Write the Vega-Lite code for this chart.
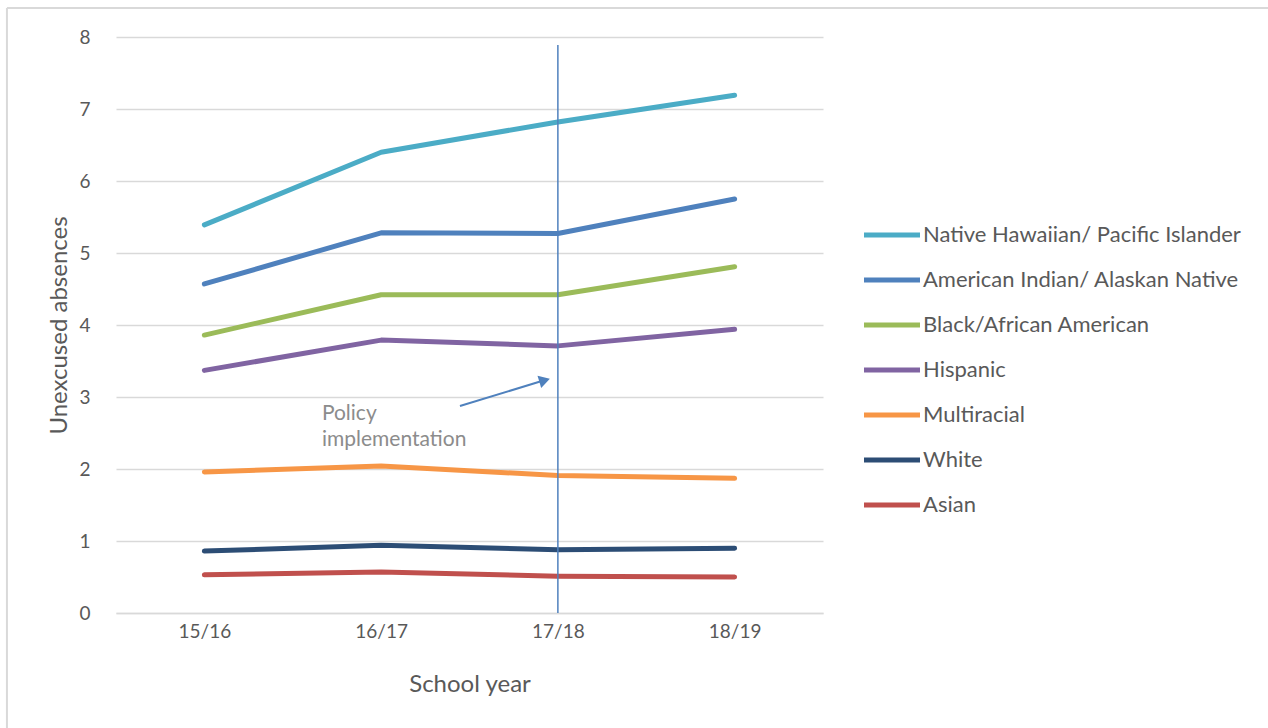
{
  "$schema": "https://vega.github.io/schema/vega-lite/v6.json",
  "autosize": "none",
  "width": 707,
  "height": 576,
  "padding": {"left": 116, "top": 37, "right": 445, "bottom": 115},
  "background": "white",
  "config": {
    "view": {"stroke": null},
    "font": "Lato"
  },
  "datasets": {
    "main": [
      {"group": "Native Hawaiian/ Pacific Islander", "x": 0, "value": 5.39},
      {"group": "Native Hawaiian/ Pacific Islander", "x": 1, "value": 6.40},
      {"group": "Native Hawaiian/ Pacific Islander", "x": 2, "value": 6.82},
      {"group": "Native Hawaiian/ Pacific Islander", "x": 3, "value": 7.19},
      {"group": "American Indian/ Alaskan Native", "x": 0, "value": 4.57},
      {"group": "American Indian/ Alaskan Native", "x": 1, "value": 5.28},
      {"group": "American Indian/ Alaskan Native", "x": 2, "value": 5.27},
      {"group": "American Indian/ Alaskan Native", "x": 3, "value": 5.75},
      {"group": "Black/African American", "x": 0, "value": 3.86},
      {"group": "Black/African American", "x": 1, "value": 4.42},
      {"group": "Black/African American", "x": 2, "value": 4.42},
      {"group": "Black/African American", "x": 3, "value": 4.81},
      {"group": "Hispanic", "x": 0, "value": 3.37},
      {"group": "Hispanic", "x": 1, "value": 3.79},
      {"group": "Hispanic", "x": 2, "value": 3.71},
      {"group": "Hispanic", "x": 3, "value": 3.94},
      {"group": "Multiracial", "x": 0, "value": 1.96},
      {"group": "Multiracial", "x": 1, "value": 2.04},
      {"group": "Multiracial", "x": 2, "value": 1.91},
      {"group": "Multiracial", "x": 3, "value": 1.87},
      {"group": "White", "x": 0, "value": 0.86},
      {"group": "White", "x": 1, "value": 0.94},
      {"group": "White", "x": 2, "value": 0.88},
      {"group": "White", "x": 3, "value": 0.90},
      {"group": "Asian", "x": 0, "value": 0.53},
      {"group": "Asian", "x": 1, "value": 0.57},
      {"group": "Asian", "x": 2, "value": 0.51},
      {"group": "Asian", "x": 3, "value": 0.50}
    ],
    "policy": [{"x": 2, "value": 0, "value2": 7.89}],
    "arrow": [{"x": 1.446, "value": 2.875, "x2": 1.9, "value2": 3.215}],
    "head": [{"x": 1.915, "value": 3.225}],
    "label": [
      {"x": 0.665, "value": 2.765, "text": "Policy"},
      {"x": 0.665, "value": 2.405, "text": "implementation"}
    ],
    "borderLeft": [{"x": -1.117, "value": 8.403, "value2": -1.7}],
    "borderTop": [{"x": -1.117, "x2": 6.1, "value": 8.403}]
  },
  "layer": [
    {
      "data": {"name": "borderLeft"},
      "mark": {"type": "rule", "color": "#d9d9d9", "strokeWidth": 2},
      "encoding": {
        "x": {"field": "x", "type": "quantitative"},
        "y": {"field": "value", "type": "quantitative"},
        "y2": {"field": "value2"}
      }
    },
    {
      "data": {"name": "borderTop"},
      "mark": {"type": "rule", "color": "#d9d9d9", "strokeWidth": 2},
      "encoding": {
        "x": {"field": "x", "type": "quantitative"},
        "x2": {"field": "x2"},
        "y": {"field": "value", "type": "quantitative"}
      }
    },
    {
      "data": {"name": "main"},
      "mark": {"type": "line", "strokeWidth": 5, "strokeCap": "round", "strokeJoin": "round"},
      "encoding": {
        "x": {
          "field": "x",
          "type": "quantitative",
          "scale": {"domain": [-0.5, 3.5], "nice": false, "zero": false},
          "axis": {
            "title": "School year",
            "values": [0, 1, 2, 3],
            "labelExpr": "['15/16','16/17','17/18','18/19'][datum.value]",
            "grid": false,
            "ticks": false,
            "domainColor": "#d9d9d9",
            "domainWidth": 1.5,
            "labelColor": "#595959",
            "labelFontSize": 19,
            "labelPadding": 9,
            "titleColor": "#595959",
            "titleFontSize": 24,
            "titleFontWeight": "normal",
            "titlePadding": 31
          }
        },
        "y": {
          "field": "value",
          "type": "quantitative",
          "scale": {"domain": [0, 8], "nice": false},
          "axis": {
            "title": "Unexcused absences",
            "values": [0, 1, 2, 3, 4, 5, 6, 7, 8],
            "format": "d",
            "grid": true,
            "gridColor": "#d9d9d9",
            "gridWidth": 1.5,
            "domain": false,
            "ticks": false,
            "labelColor": "#595959",
            "labelFontSize": 19,
            "labelPadding": 26,
            "titleColor": "#595959",
            "titleFontSize": 24,
            "titleFontWeight": "normal",
            "titlePadding": 7
          }
        },
        "color": {
          "field": "group",
          "type": "nominal",
          "scale": {
            "domain": ["Native Hawaiian/ Pacific Islander", "American Indian/ Alaskan Native", "Black/African American", "Hispanic", "Multiracial", "White", "Asian"],
            "range": ["#4bacc6", "#4f81bd", "#9bbb59", "#8064a2", "#f79646", "#2c4d75", "#c0504d"]
          },
          "legend": {
            "title": null,
            "orient": "none",
            "legendX": 738,
            "legendY": 187,
            "symbolType": "M-1,0H55",
            "symbolSize": 4,
            "symbolStrokeWidth": 5,
            "labelOffset": 47,
            "labelFontSize": 22,
            "labelColor": "#595959",
            "labelLimit": 400,
            "rowPadding": 23
          }
        }
      }
    },
    {
      "data": {"name": "policy"},
      "mark": {"type": "rule", "color": "#4f81bd", "strokeWidth": 1.5},
      "encoding": {
        "x": {"field": "x", "type": "quantitative"},
        "y": {"field": "value", "type": "quantitative"},
        "y2": {"field": "value2"}
      }
    },
    {
      "data": {"name": "arrow"},
      "mark": {"type": "rule", "color": "#4f81bd", "strokeWidth": 2},
      "encoding": {
        "x": {"field": "x", "type": "quantitative"},
        "x2": {"field": "x2"},
        "y": {"field": "value", "type": "quantitative"},
        "y2": {"field": "value2"}
      }
    },
    {
      "data": {"name": "head"},
      "mark": {"type": "point", "shape": "triangle", "filled": true, "color": "#4f81bd", "size": 160, "angle": 73, "opacity": 1},
      "encoding": {
        "x": {"field": "x", "type": "quantitative"},
        "y": {"field": "value", "type": "quantitative"}
      }
    },
    {
      "data": {"name": "label"},
      "mark": {"type": "text", "align": "left", "baseline": "middle", "fontSize": 21, "color": "#8c8c8c"},
      "encoding": {
        "x": {"field": "x", "type": "quantitative"},
        "y": {"field": "value", "type": "quantitative"},
        "text": {"field": "text"}
      }
    }
  ]
}
